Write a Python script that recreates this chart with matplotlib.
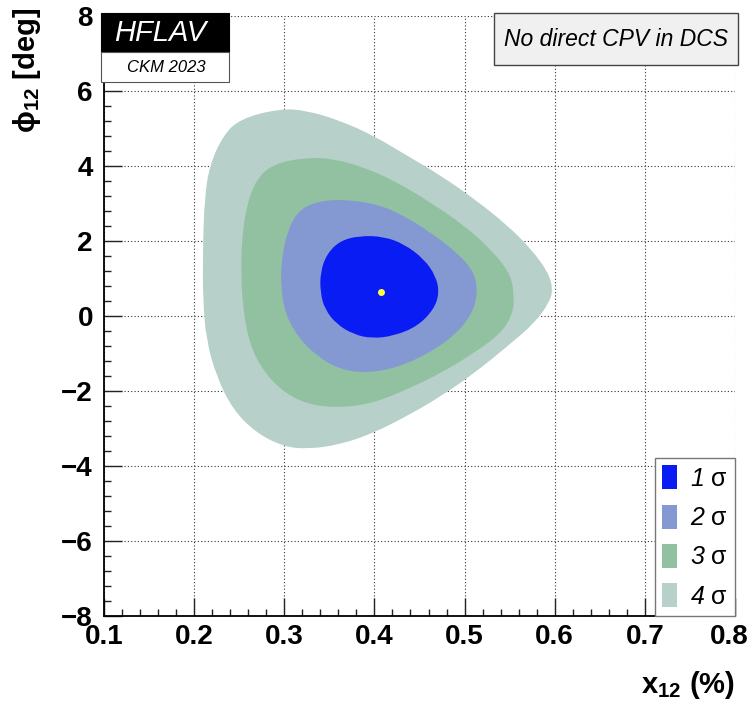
import numpy as np
import matplotlib
matplotlib.use("Agg")
import matplotlib.pyplot as plt
from matplotlib.patches import Patch, Rectangle, PathPatch
from matplotlib.path import Path
from matplotlib.ticker import MultipleLocator, FuncFormatter

plt.rcParams['font.family'] = ['Liberation Sans', 'DejaVu Sans']
plt.rcParams['mathtext.fontset'] = 'custom'
plt.rcParams['mathtext.rm'] = 'Liberation Sans'
plt.rcParams['mathtext.bf'] = 'Liberation Sans:bold'
plt.rcParams['mathtext.it'] = 'Liberation Sans:italic'

# contour boundaries (x12 [%], phi12 [deg])
x_4s = [0.295, 0.251, 0.232, 0.217, 0.2115, 0.2097, 0.2097, 0.2134, 0.2245, 0.243,
        0.269, 0.299, 0.325, 0.362, 0.399, 0.436, 0.474, 0.511, 0.548, 0.578,
        0.594, 0.598, 0.593, 0.574, 0.548, 0.511, 0.474, 0.436, 0.399, 0.362, 0.325]
y_4s = [5.53, 5.26, 4.81, 4.01, 3.12, 1.78, 0.45, -0.62, -1.60, -2.50,
        -3.12, -3.48, -3.55, -3.43, -3.12, -2.67, -2.14, -1.52, -0.80, -0.18,
        0.36, 0.71, 1.16, 1.78, 2.41, 3.12, 3.74, 4.28, 4.81, 5.21, 5.48]

x_3s = [0.325, 0.288, 0.269, 0.258, 0.253, 0.252, 0.254, 0.260, 0.273, 0.295,
        0.325, 0.362, 0.399, 0.436, 0.474, 0.511, 0.541, 0.554, 0.555, 0.550,
        0.529, 0.500, 0.462, 0.425, 0.388, 0.355]
y_3s = [4.23, 4.06, 3.65, 2.94, 2.05, 1.16, 0.27, -0.62, -1.34, -1.96,
        -2.36, -2.45, -2.32, -1.96, -1.52, -0.98, -0.45, 0.09, 0.62, 1.16,
        1.78, 2.41, 3.03, 3.57, 3.97, 4.19]

x_2s = [0.362, 0.332, 0.314, 0.303, 0.297, 0.296, 0.3007, 0.314, 0.336, 0.362,
        0.392, 0.425, 0.462, 0.492, 0.509, 0.5145, 0.511, 0.492, 0.462, 0.433, 0.403]
y_2s = [3.12, 3.03, 2.76, 2.23, 1.52, 0.80, 0.09, -0.53, -1.07, -1.43,
        -1.52, -1.38, -0.98, -0.45, 0.09, 0.62, 1.16, 1.69, 2.23, 2.67, 2.99]

x_1s = [0.384, 0.362, 0.347, 0.340, 0.340, 0.345, 0.358, 0.377, 0.397, 0.422,
        0.448, 0.466, 0.472, 0.468, 0.455, 0.433, 0.410]
y_1s = [2.14, 2.01, 1.65, 1.16, 0.62, 0.18, -0.22, -0.49, -0.60, -0.53,
        -0.27, 0.18, 0.62, 1.07, 1.52, 1.92, 2.12]

best_x, best_y = 0.4074, 0.64

sigma_labels = ['1', '2', '3', '4']
sigma_colors = ['#0a1cf4', '#8499d2', '#92c1a2', '#b7d0c9']


def smooth_closed_path(xs, ys):
    # quadratic bezier through edge midpoints, boundary points act as control points
    pts = np.column_stack([xs, ys])
    n = len(pts)
    mids = (pts + np.roll(pts, -1, axis=0)) / 2
    verts = [mids[-1]]
    codes = [Path.MOVETO]
    for i in range(n):
        verts += [pts[i], mids[i]]
        codes += [Path.CURVE3, Path.CURVE3]
    verts.append(mids[-1])
    codes.append(Path.CLOSEPOLY)
    return Path(verts, codes)


fig = plt.figure(figsize=(7.51, 7.06), dpi=100)
ax = fig.add_axes([104 / 751, 1 - 616 / 706, 631 / 751, 600 / 706])

ax.set_xlim(0.1, 0.8)
ax.set_ylim(-8, 8)

# grid under the contours
ax.grid(True, which='major', color='#333333', linestyle=(0, (1, 2)), linewidth=0.8, zorder=0)
ax.set_axisbelow(True)

contours = [(x_4s, y_4s), (x_3s, y_3s), (x_2s, y_2s), (x_1s, y_1s)]
for (cx, cy), col in zip(contours, sigma_colors[::-1]):
    ax.add_patch(PathPatch(smooth_closed_path(cx, cy), facecolor=col, edgecolor='none', zorder=2))
ax.plot(best_x, best_y, 'o', color='#ffff33', markersize=5, markeredgewidth=0, zorder=3)

ax.xaxis.set_major_locator(MultipleLocator(0.1))
ax.xaxis.set_minor_locator(MultipleLocator(0.02))
ax.yaxis.set_major_locator(MultipleLocator(2))
ax.yaxis.set_minor_locator(MultipleLocator(0.4))
ax.tick_params(which='both', direction='in', top=False, right=False, width=1, color='#222222')
ax.tick_params(which='major', length=13)
ax.tick_params(which='minor', length=5)
ax.tick_params(axis='x', which='major', pad=6)
ax.tick_params(axis='y', which='major', pad=8)
# last x label is drawn separately, pulled in from the figure edge
ax.xaxis.set_major_formatter(FuncFormatter(lambda v, p: '' if v > 0.79 else '%.1f' % v))
ax.yaxis.set_major_formatter(FuncFormatter(lambda v, p: '\u2212%d' % -v if v < 0 else '%d' % v))
for lab in ax.get_xticklabels() + ax.get_yticklabels():
    lab.set_fontsize(20)
    lab.set_fontweight('bold')
ax.annotate('0.8', xy=(0.8, 0), xycoords=('data', 'axes fraction'), xytext=(-4, -6),
            textcoords='offset points', ha='center', va='top', fontsize=20, fontweight='bold')

ax.spines['top'].set_visible(False)
ax.spines['right'].set_visible(False)
ax.spines['left'].set_linewidth(1.3)
ax.spines['bottom'].set_linewidth(1.3)

fig.text(735 / 751, 1 - 693 / 706, r'$\mathbf{x_{12}}$ (%)', fontsize=21, fontweight='bold',
         ha='right', va='baseline')
fig.text(27 / 751, 1 - 8 / 706, r'$\mathbf{\phi_{12}}$ [deg]', fontsize=21, fontweight='bold',
         rotation=90, ha='center', va='top')


def fig_rect(x0, y0, x1, y1, **kw):
    r = Rectangle((x0 / 751, 1 - y1 / 706), (x1 - x0) / 751, (y1 - y0) / 706,
                  transform=fig.transFigure, **kw)
    fig.add_artist(r)


# HFLAV logo
fig_rect(101, 13, 229, 52, facecolor='black', edgecolor='black', linewidth=0.8, zorder=5)
fig_rect(101, 52, 229, 82, facecolor='white', edgecolor='#555555', linewidth=0.8, zorder=5)
fig.text(160 / 751, 1 - 33 / 706, 'HFLAV', color='white', fontsize=21, style='italic',
         ha='center', va='center', zorder=6)
fig.text(166 / 751, 1 - 68 / 706, 'CKM 2023', color='black', fontsize=12, style='italic',
         ha='center', va='center', zorder=6)

fig_rect(494, 13, 738, 65, facecolor='#f0f0f0', edgecolor='#444444', linewidth=1.0, zorder=5)
fig.text(616 / 751, 1 - 40 / 706, 'No direct CPV in DCS', fontsize=16.5, style='italic',
         ha='center', va='center', zorder=6)

handles = [Patch(facecolor=c, edgecolor='none') for c in sigma_colors]
labels = [s + r' $\mathrm{\sigma}$' for s in sigma_labels]
leg = ax.legend(handles, labels, loc='lower right', bbox_to_anchor=(1.0, 0.0),
                prop={'size': 18, 'style': 'italic'}, frameon=True, fancybox=False,
                framealpha=1, edgecolor='#777777', handlelength=0.6, handleheight=1.1,
                handletextpad=0.5, labelspacing=0.55, borderpad=0.3, borderaxespad=0)
leg.get_frame().set_linewidth(1.0)
leg.set_zorder(7)

fig.savefig('out.png', dpi=100)
